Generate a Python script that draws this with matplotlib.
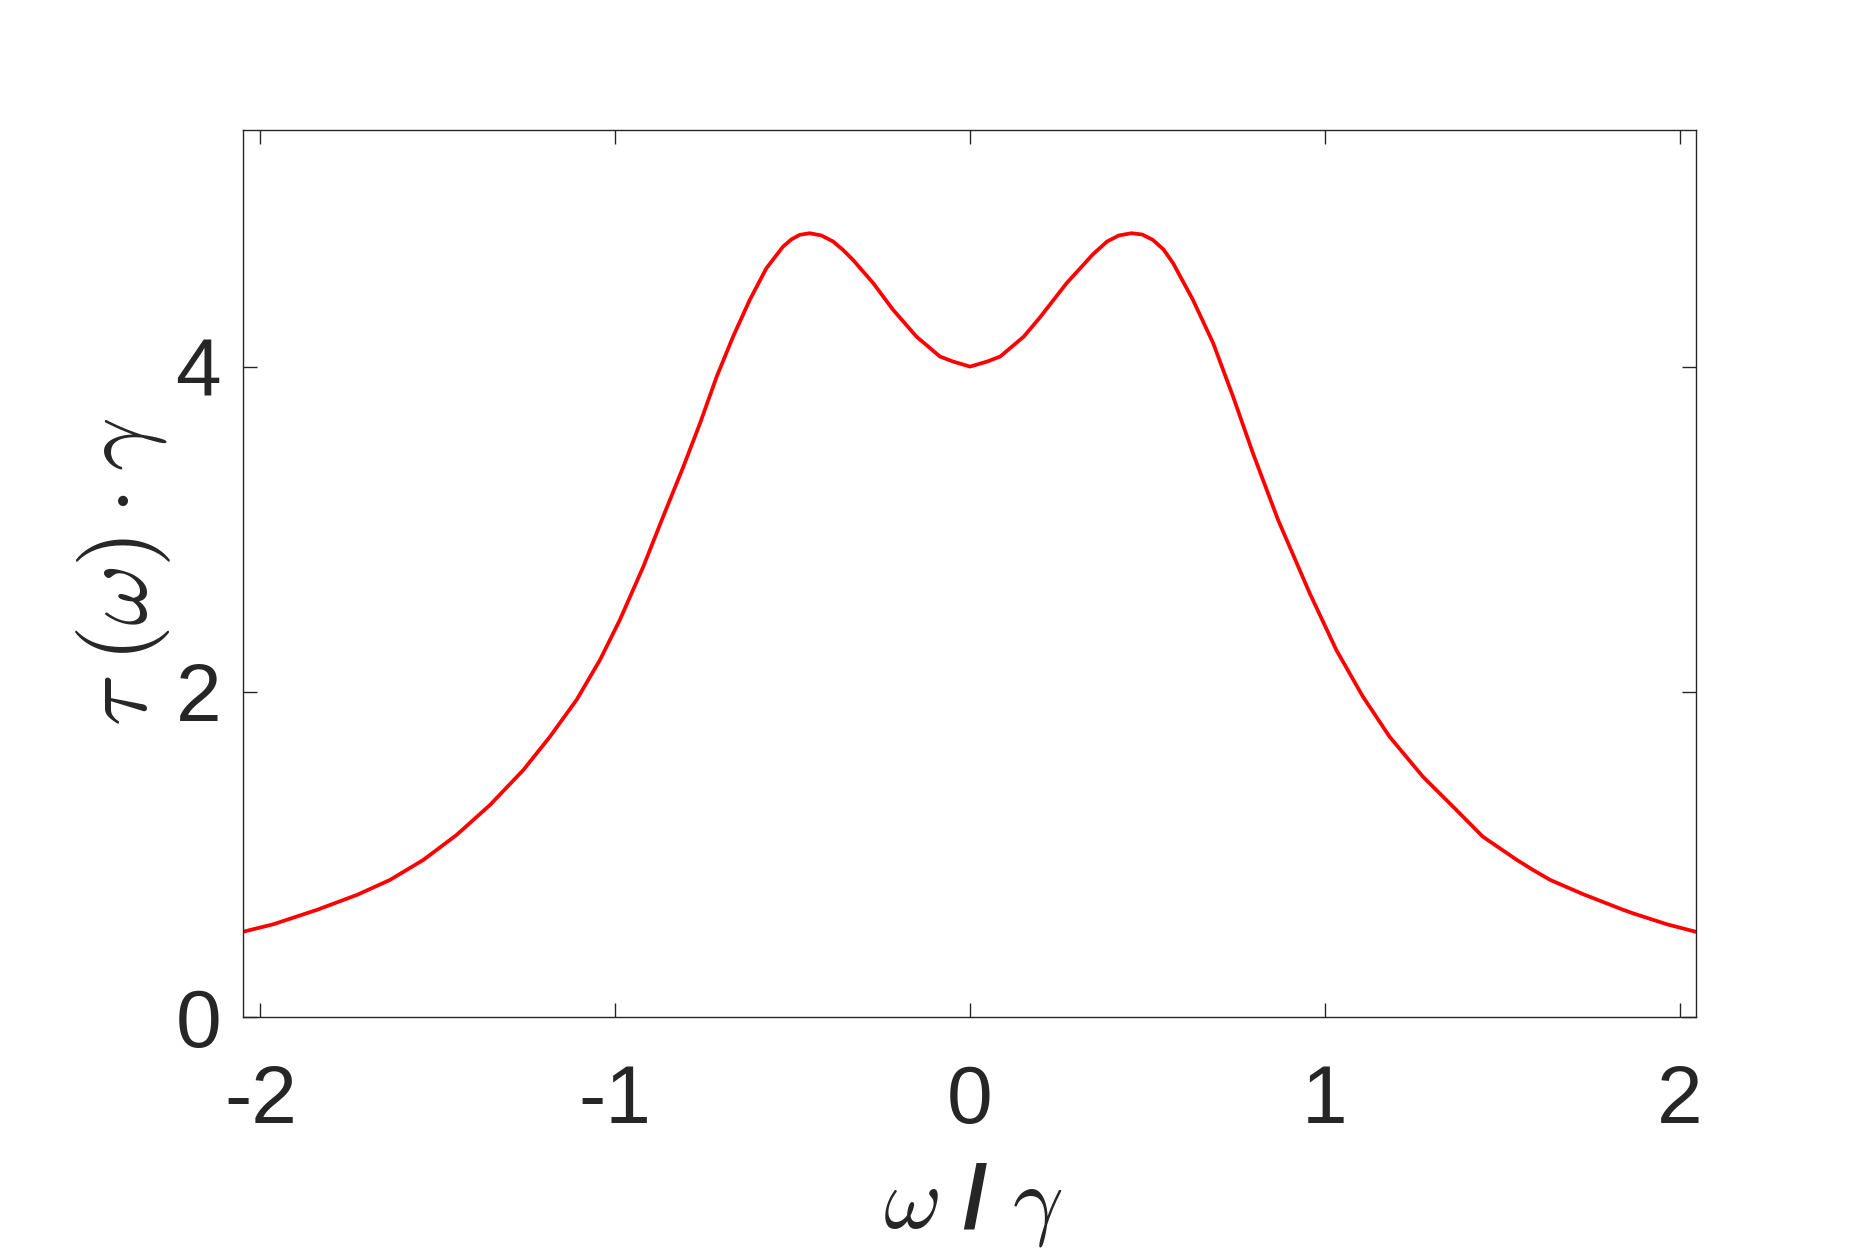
import matplotlib
matplotlib.use("Agg")
import matplotlib.pyplot as plt

plt.rcParams['font.family'] = ['Liberation Sans', 'DejaVu Sans']
plt.rcParams['mathtext.fontset'] = 'cm'
plt.rcParams['axes.unicode_minus'] = False

# tau(omega)*gamma, omega/gamma on x
omega = [-2.048, -1.963, -1.841, -1.728, -1.635, -1.541, -1.447, -1.353, -1.259,
         -1.184, -1.109, -1.043, -0.987, -0.921, -0.865, -0.808, -0.761, -0.714,
         -0.668, -0.621, -0.574, -0.527, -0.503, -0.480, -0.452, -0.419, -0.386,
         -0.358, -0.330, -0.273, -0.217, -0.151, -0.118, -0.085, -0.048, 0.0,
         0.048, 0.085, 0.118, 0.151, 0.196, 0.272, 0.346, 0.386, 0.419, 0.455,
         0.485, 0.515, 0.545, 0.572, 0.628, 0.685, 0.741, 0.797, 0.868, 0.957,
         1.032, 1.107, 1.182, 1.276, 1.370, 1.445, 1.541, 1.586, 1.635, 1.727,
         1.841, 1.868, 1.963, 2.044]
tau = [0.526, 0.572, 0.660, 0.752, 0.844, 0.967, 1.121, 1.305, 1.520,
       1.725, 1.951, 2.197, 2.443, 2.770, 3.078, 3.385, 3.652, 3.939,
       4.184, 4.410, 4.605, 4.738, 4.783, 4.810, 4.820, 4.806, 4.769,
       4.717, 4.656, 4.513, 4.349, 4.184, 4.123, 4.062, 4.031, 4.000,
       4.031, 4.062, 4.123, 4.184, 4.300, 4.513, 4.690, 4.769, 4.806, 4.820,
       4.812, 4.779, 4.720, 4.636, 4.410, 4.144, 3.816, 3.468, 3.057, 2.607,
       2.258, 1.971, 1.725, 1.479, 1.275, 1.110, 0.967, 0.906, 0.844, 0.757,
       0.660, 0.639, 0.572, 0.526]

xticks = [-2, -1, 0, 1, 2]
yticks = [0, 2, 4]

fig = plt.figure(figsize=(18.75, 12.5), dpi=100)
ax = fig.add_axes([0.1298, 0.1862, 0.7748, 0.7096])

ax.plot(omega, tau, color='#ff0000', linewidth=2.7, solid_joinstyle='round')

ax.set_xlim(-2.048, 2.046)
ax.set_ylim(0, 5.453)
ax.set_xticks(xticks)
ax.set_yticks(yticks)

ink = '#262626'
for s in ax.spines.values():
    s.set_color(ink)
    s.set_linewidth(1.0)
ax.tick_params(direction='in', length=10, width=1.0, colors=ink,
               top=True, right=True, labelsize=59)
ax.tick_params(axis='x', pad=34)
ax.tick_params(axis='y', pad=16)

ax.set_xlabel(r'$\omega$ / $\gamma$', fontsize=64, fontweight='bold',
              color=ink, va='center')
ax.xaxis.set_label_coords(0.502, -0.212)
ax.set_ylabel(r'$\tau\;(\omega)\cdot\gamma$', fontsize=68, color=ink, va='center')
ax.yaxis.set_label_coords(-0.082, 0.502)

fig.savefig('out.png', dpi=100, facecolor='white')
